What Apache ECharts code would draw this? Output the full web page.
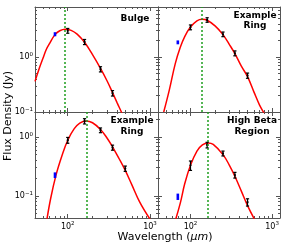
<!DOCTYPE html>
<html><head><meta charset="utf-8">
<script src="https://cdn.jsdelivr.net/npm/echarts@6/dist/echarts.min.js"></script>
<style>html,body{margin:0;padding:0;background:#fff}#c{width:293px;height:245px}</style>
</head><body><div id="c"></div>
<script>
// ---------- data ----------
const panelNames = ['Bulge', 'Example\nRing', 'Example\nRing', 'High Beta\nRegion'];
const peakWavelengths = [93, 139, 168, 164];

// model curves (wavelength um, flux Jy)
const curveLam0 = [40,45,50,55,60,70,80,93,110,130,160,200,250,300,350,400,460,520];
const curveFlux0 = [0.36,0.62,0.95,1.38,1.75,2.55,3.0,3.2,3.05,2.6,1.85,1.1,0.62,0.37,0.225,0.145,0.092,0.06];
const curveLam1 = [47,55,65,75,85,100,120,139,160,200,250,300,350,420,500,600,700,800,900];
const curveFlux1 = [0.1,0.25,0.75,1.5,2.35,3.5,4.55,4.85,4.65,3.67,2.55,1.68,1.15,0.68,0.44,0.23,0.135,0.095,0.07];
const curveLam2 = [55,62,72,85,100,120,140,168,200,250,300,350,420,500,600,750,1000];
const curveFlux2 = [0.035,0.09,0.225,0.48,0.88,1.38,1.72,1.87,1.74,1.34,0.96,0.68,0.43,0.27,0.155,0.078,0.04];
const curveLam3 = [64,75,85,100,120,140,164,190,250,300,350,420,500,620];
const curveFlux3 = [0.035,0.075,0.16,0.33,0.575,0.73,0.79,0.745,0.5,0.33,0.215,0.12,0.068,0.038];

// measured points
const blueLam = [70, 70, 70, 70];
const blueFlux = [2.6, 1.85, 0.225, 0.097];
const blueErr = [0.22, 0.15, 0.025, 0.012];
const blackLam0 = [100,160,250,350];
const blackFlux0 = [3.0,1.88,0.60,0.22];
const blackErr0 = [0.3,0.2,0.065,0.025];
const blackLam1 = [100,160,250,350,500];
const blackFlux1 = [3.47,4.72,2.59,1.17,0.46];
const blackErr1 = [0.35,0.45,0.25,0.12,0.05];
const blackLam2 = [100,160,250,350,500];
const blackFlux2 = [0.88,1.85,1.30,0.66,0.29];
const blackErr2 = [0.1,0.19,0.12,0.065,0.03];
const blackLam3 = [100,160,250,350,500];
const blackFlux3 = [0.33,0.73,0.525,0.225,0.078];
const blackErr3 = [0.06,0.08,0.05,0.025,0.011];

const xMajorTicks = [100, 1000];
const xMinorTicks = [50,60,70,80,90,200,300,400,500,600,700,800,900];
const yMajorTicks = [0.1, 1];
const yMinorTicksTop = [0.2,0.3,0.4,0.5,0.6,0.7,0.8,0.9,2,3,4,5,6,7,8];
const yMinorTicksBot = [0.05,0.06,0.07,0.08,0.09,0.2,0.3,0.4,0.5,0.6,0.7,0.8,0.9,2];

const xRange = [40, 1250];
const yRangeTop = [0.1, 8.1];
const yRangeBot = [0.042, 2.65];

// ---------- layout ----------
const grids = [
  {left: 35, top: 7, width: 123, height: 105},
  {left: 158, top: 7, width: 122, height: 105},
  {left: 35, top: 112, width: 123, height: 106},
  {left: 158, top: 112, width: 122, height: 106}
];
const curvesLam = [curveLam0, curveLam1, curveLam2, curveLam3];
const curvesFlux = [curveFlux0, curveFlux1, curveFlux2, curveFlux3];
const blacksLam = [blackLam0, blackLam1, blackLam2, blackLam3];
const blacksFlux = [blackFlux0, blackFlux1, blackFlux2, blackFlux3];
const blacksErr = [blackErr0, blackErr1, blackErr2, blackErr3];

const FONT = 'DejaVu Sans';
const frameColor = '#555';
const supRich = {
  b: {fontSize: 8, fontFamily: FONT, color: '#000'},
  s: {fontSize: 5.5, fontFamily: FONT, color: '#000', padding: [0, 0, 5, 0]}
};
function powLabel(v) {
  const e = Math.round(Math.log10(v));
  return '{b|10}{s|' + (e < 0 ? '\u2212' + (-e) : e) + '}';
}

const xAxes = [], yAxes = [], series = [];
grids.forEach((g, gi) => {
  const bottomRow = gi >= 2, leftCol = gi % 2 === 0;
  const yr = gi < 2 ? yRangeTop : yRangeBot;
  const yMinor = gi < 2 ? yMinorTicksTop : yMinorTicksBot;
  const mainX = xAxes.length, mainY = yAxes.length;
  [['bottom', true], ['bottom', false], ['top', true], ['top', false]].forEach(([pos, major]) => {
    xAxes.push({
      type: 'log', gridIndex: gi, position: pos, min: xRange[0], max: xRange[1],
      axisLine: {show: major, lineStyle: {color: frameColor, width: 1}},
      axisTick: {show: true, inside: true, length: major ? 4 : 2, customValues: major ? xMajorTicks : xMinorTicks,
                 lineStyle: {color: frameColor, width: 1}},
      axisLabel: {show: major && pos === 'bottom' && bottomRow, customValues: xMajorTicks, formatter: powLabel,
                  rich: supRich, margin: 3},
      splitLine: {show: false}, minorTick: {show: false}
    });
  });
  [['left', true], ['left', false], ['right', true], ['right', false]].forEach(([pos, major]) => {
    yAxes.push({
      type: 'log', gridIndex: gi, position: pos, min: yr[0], max: yr[1],
      axisLine: {show: major, lineStyle: {color: frameColor, width: 1}},
      axisTick: {show: true, inside: true, length: major ? 4 : 2, customValues: major ? yMajorTicks : yMinor,
                 lineStyle: {color: frameColor, width: 1}},
      axisLabel: {show: major && pos === 'left' && leftCol, customValues: yMajorTicks, formatter: powLabel,
                  rich: supRich, margin: 2},
      splitLine: {show: false}, minorTick: {show: false}
    });
  });
  series.push({
    type: 'line', xAxisIndex: mainX, yAxisIndex: mainY, clip: true,
    data: curvesLam[gi].map((l, i) => [l, curvesFlux[gi][i]]),
    smooth: 0.4, showSymbol: false, symbol: 'none',
    lineStyle: {color: '#ff0000', width: 1.5},
    markLine: {silent: true, symbol: 'none', label: {show: false},
      lineStyle: {color: '#1e9e1e', width: 1.5, type: [2, 2]},
      data: [{xAxis: peakWavelengths[gi]}]},
    z: 2
  });
  series.push({
    type: 'custom', xAxisIndex: mainX, yAxisIndex: mainY, clip: true, z: 3,
    data: blacksLam[gi].map((l, i) => [l, blacksFlux[gi][i], blacksErr[gi][i]]),
    renderItem: (params, api) => {
      const x = api.value(0), y = api.value(1), e = api.value(2);
      const p = api.coord([x, y]), lo = api.coord([x, y - e]), hi = api.coord([x, y + e]);
      const st = {stroke: '#000', lineWidth: 1.2};
      return {type: 'group', children: [
        {type: 'line', shape: {x1: p[0], y1: lo[1], x2: p[0], y2: hi[1]}, style: st},
        {type: 'line', shape: {x1: p[0] - 1.6, y1: lo[1], x2: p[0] + 1.6, y2: lo[1]}, style: st},
        {type: 'line', shape: {x1: p[0] - 1.6, y1: hi[1], x2: p[0] + 1.6, y2: hi[1]}, style: st},
        {type: 'circle', shape: {cx: p[0], cy: p[1], r: 1.1}, style: {fill: '#000'}}
      ]};
    }
  });
  series.push({
    type: 'custom', xAxisIndex: mainX, yAxisIndex: mainY, clip: true, z: 3,
    data: [[blueLam[gi], blueFlux[gi], blueErr[gi]]],
    renderItem: (params, api) => {
      const x = api.value(0), y = api.value(1), e = api.value(2);
      const p = api.coord([x, y]), lo = api.coord([x, y - e]), hi = api.coord([x, y + e]);
      return {type: 'rect', shape: {x: p[0] - 1.3, y: hi[1], width: 2.6, height: lo[1] - hi[1]},
              style: {fill: '#0000ff'}};
    }
  });
});

const labelPos = [[135, 19], [255, 20.5], [132, 126], [252, 126]];
const graphic = panelNames.map((t, i) => ({
  type: 'text', x: labelPos[i][0], y: labelPos[i][1], z: 10,
  style: {text: t, align: 'center', verticalAlign: 'middle', font: 'bold 9px "DejaVu Sans"',
          lineHeight: 10.5, fill: '#000'}
}));
graphic.push({
  type: 'text', x: 8, y: 116, rotation: Math.PI / 2,
  style: {text: 'Flux Density (Jy)', align: 'center', verticalAlign: 'middle',
          font: '11px "DejaVu Sans"', fill: '#000'}
});
graphic.push({
  type: 'text', x: 165, y: 237,
  style: {text: 'Wavelength ({i|\u03bcm})', align: 'center', verticalAlign: 'middle',
          font: '11px "DejaVu Sans"', fill: '#000',
          rich: {i: {fontStyle: 'italic', fontSize: 11, fontFamily: FONT}}}
});

const chart = echarts.init(document.getElementById('c'), null, {renderer: 'canvas'});
chart.setOption({
  animation: false,
  textStyle: {fontFamily: FONT},
  grid: grids.map(g => Object.assign({containLabel: false}, g)),
  xAxis: xAxes, yAxis: yAxes, series: series, graphic: graphic
});
</script></body></html>
